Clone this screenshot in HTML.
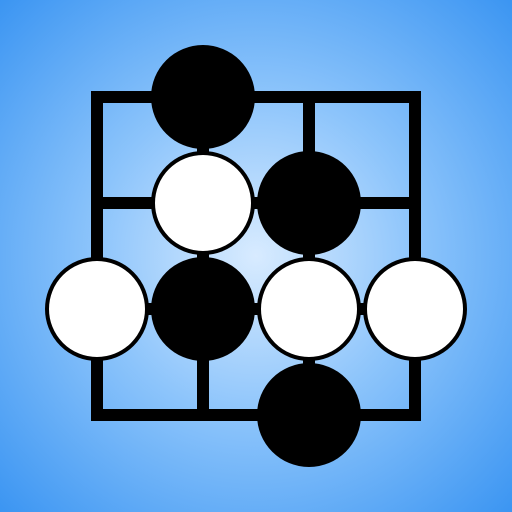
<!DOCTYPE html>
<html><head><meta charset="utf-8"><style>
html,body{margin:0;padding:0;width:512px;height:512px;overflow:hidden}
</style></head><body>
<svg width="512" height="512" viewBox="0 0 512 512">
<defs>
<radialGradient id="bg" cx="256" cy="256" r="362" gradientUnits="userSpaceOnUse">
<stop offset="0" stop-color="#d8ebff"/>
<stop offset="0.45" stop-color="#8cc4fb"/>
<stop offset="1" stop-color="#3b95f2"/>
</radialGradient>
</defs>
<rect width="512" height="512" fill="url(#bg)"/>
<g id="grid" stroke="#000" stroke-width="12" stroke-linecap="square"></g>
<g id="stones"></g>
<script>
const gridPos=[97,203,309,415];
const stones=[[1,0,'b'],[1,1,'w'],[2,1,'b'],[0,2,'w'],[1,2,'b'],[2,2,'w'],[3,2,'w'],[2,3,'b']];
const ns='http://www.w3.org/2000/svg';
const g=document.getElementById('grid');
gridPos.forEach((p,i)=>{
  const v=document.createElementNS(ns,'line');
  v.setAttribute('x1',p);v.setAttribute('x2',p);v.setAttribute('y1',97);v.setAttribute('y2',415);
  
  
  g.appendChild(v);
  const h=document.createElementNS(ns,'line');
  h.setAttribute('y1',p);h.setAttribute('y2',p);h.setAttribute('x1',97);h.setAttribute('x2',415);
  
  
  g.appendChild(h);
});
const s=document.getElementById('stones');
stones.forEach(st=>{
  const c=document.createElementNS(ns,'circle');
  c.setAttribute('cx',gridPos[st[0]]);c.setAttribute('cy',gridPos[st[1]]);
  if(st[2]==='b'){c.setAttribute('r',52);c.setAttribute('fill','#000');}
  else{c.setAttribute('r',50);c.setAttribute('fill','#fff');c.setAttribute('stroke','#000');c.setAttribute('stroke-width',4);}
  
  
  s.appendChild(c);
});
</script>
</svg>
</body></html>
